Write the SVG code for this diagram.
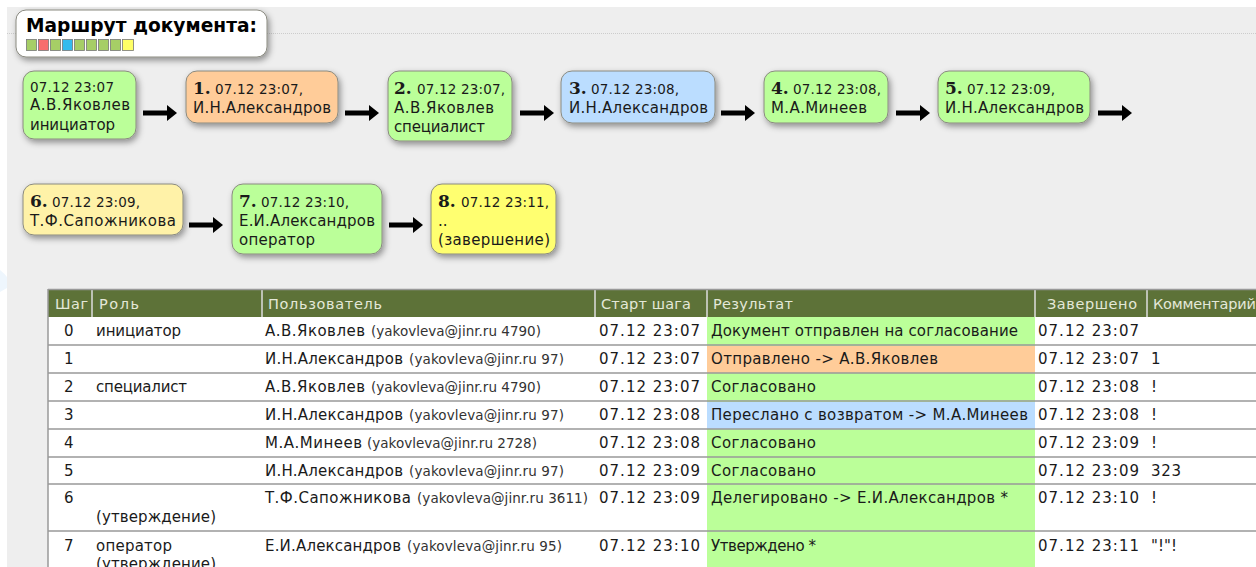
<svg xmlns="http://www.w3.org/2000/svg" width="1256" height="567" viewBox="0 0 1256 567">
<style>
text{font-family:"DejaVu Sans",Verdana,sans-serif;font-size:15px;fill:#1a1a1a}
.b{font-family:"DejaVu Serif","Liberation Serif",serif;font-weight:bold;font-size:17px}
.d{font-size:13.500px}
.h{fill:#e4e8d8;font-size:14.500px}
.m{font-size:13.500px;fill:#333}
.n{stroke:#8a8a80;stroke-width:1;filter:url(#s)}
.g{fill:#bbff99}.o{fill:#ffcc99}.u{fill:#bbddff}.p{fill:#fff2a8}.y{fill:#ffff70}
.r{stroke:#999;stroke-width:1.500}
.v{stroke:#ddd;stroke-width:1.500}
.a{stroke:#000;stroke-width:5;fill:none;marker-end:url(#m)}
</style>
<defs>
<filter id="s" x="-15%" y="-15%" width="135%" height="140%"><feDropShadow dx="2" dy="3" stdDeviation="3" flood-color="#000" flood-opacity=".4"/></filter>
<marker id="m" markerUnits="userSpaceOnUse" markerWidth="11" markerHeight="16" refX="1" refY="8" orient="auto"><path d="M0 0L10 8L0 16Z" fill="#000"/></marker>
</defs>
<rect width="1256" height="567" fill="#fff"/>
<rect x="7" y="7" width="1249" height="560" fill="#eee"/>
<path d="M0 270Q5 274 7 277V288L0 292Z" fill="#eef6fd"/>
<line x1="7" y1="33.500" x2="1256" y2="33.500" stroke="#ccc" stroke-dasharray="1 1"/>
<g id="title"><rect class="n" x="16" y="10" width="251" height="47" rx="10" fill="#fff"/>
<text x="26" y="32" style="font-size:19px;font-weight:bold;fill:#000" textLength="231" lengthAdjust="spacingAndGlyphs">Маршрут документа:</text>
<g stroke="#777" stroke-width=".8">
<rect x="26.500" y="39.500" width="10" height="11" fill="#a6ce66"/><rect x="38.500" y="39.500" width="10" height="11" fill="#f76d6d"/><rect x="50.500" y="39.500" width="10" height="11" fill="#a6ce66"/><rect x="62.500" y="39.500" width="10" height="11" fill="#33bbee"/><rect x="74.500" y="39.500" width="10" height="11" fill="#a6ce66"/><rect x="86.500" y="39.500" width="10" height="11" fill="#a6ce66"/><rect x="98.500" y="39.500" width="10" height="11" fill="#a6ce66"/><rect x="110.500" y="39.500" width="10" height="11" fill="#a6ce66"/><rect x="122.500" y="39.500" width="11" height="11" fill="#ffff66"/></g></g>
<g id="connectors">
<path class="a" d="M143 113H168"/><path class="a" d="M345 113H370"/><path class="a" d="M520 113H545"/><path class="a" d="M721 113H746"/><path class="a" d="M896 113H921"/><path class="a" d="M1098 113H1123"/><path class="a" d="M189 225H214"/><path class="a" d="M389 225H414"/>
</g>
<g id="node0"><rect class="n g" x="23" y="71" width="113" height="68" rx="11"/><text class="d" x="30" y="92" textLength="84">07.12 23:07</text><text x="30" y="110" textLength="100">А.В.Яковлев</text><text x="30" y="130" textLength="85">инициатор</text></g>
<g id="node1"><rect class="n o" x="186" y="71" width="152" height="52" rx="11"/><text class="b" x="193" y="94">1.</text><text class="d" x="215" y="94" textLength="88">07.12 23:07,</text><text x="193" y="113" textLength="138">И.Н.Александров</text></g>
<g id="node2"><rect class="n g" x="388" y="71" width="124" height="70" rx="11"/><text class="b" x="394" y="94">2.</text><text class="d" x="417" y="94" textLength="88">07.12 23:07,</text><text x="394" y="113" textLength="100">А.В.Яковлев</text><text x="394" y="132" textLength="91">специалист</text></g>
<g id="node3"><rect class="n u" x="561" y="71" width="154" height="52" rx="11"/><text class="b" x="569" y="94">3.</text><text class="d" x="591" y="94" textLength="88">07.12 23:08,</text><text x="569" y="113" textLength="139">И.Н.Александров</text></g>
<g id="node4"><rect class="n g" x="764" y="71" width="124" height="52" rx="11"/><text class="b" x="771" y="94">4.</text><text class="d" x="793" y="94" textLength="88">07.12 23:08,</text><text x="771" y="113" textLength="96">М.А.Минеев</text></g>
<g id="node5"><rect class="n g" x="938" y="71" width="152" height="52" rx="11"/><text class="b" x="945" y="94">5.</text><text class="d" x="967" y="94" textLength="88">07.12 23:09,</text><text x="945" y="113" textLength="139">И.Н.Александров</text></g>
<g id="node6"><rect class="n p" x="23" y="184" width="160" height="51" rx="11"/><text class="b" x="30" y="207">6.</text><text class="d" x="52" y="207" textLength="88">07.12 23:09,</text><text x="30" y="226" textLength="146">Т.Ф.Сапожникова</text></g>
<g id="node7"><rect class="n g" x="232" y="184" width="150" height="70" rx="11"/><text class="b" x="239" y="207">7.</text><text class="d" x="261" y="207" textLength="88">07.12 23:10,</text><text x="239" y="226" textLength="136">Е.И.Александров</text><text x="239" y="245" textLength="76">оператор</text></g>
<g id="node8"><rect class="n y" x="431" y="184" width="125" height="70" rx="11"/><text class="b" x="438" y="207">8.</text><text class="d" x="461" y="207" textLength="88">07.12 23:11,</text><text x="438" y="226">..</text><text x="438" y="245" textLength="112">(завершение)</text></g>
<g id="table">
<rect x="48" y="317" width="1208" height="250" fill="#fff"/>
<rect x="48" y="290" width="1208" height="27" fill="#5d7238"/>
<g class="g"><rect x="707" y="317" width="328" height="250"/></g>
<rect x="707" y="346" width="328" height="27" class="o"/>
<rect x="707" y="402" width="328" height="27" class="u"/>
<path class="v" d="M92 290V317M262 290V317M595 290V317M707 290V317M1035 290V317M1147 290V317"/>
<path class="r" d="M48 289.500H1256M48 345H1256M48 373H1256M48 401H1256M48 429H1256M48 457H1256M48 484H1256M48 531H1256M48 289V567" fill="none"/>
<text class="h" x="55" y="309" textLength="33">Шаг</text><text class="h" x="99" y="309" textLength="40">Роль</text><text class="h" x="268" y="309" textLength="114">Пользователь</text><text class="h" x="601" y="309" textLength="90">Старт шага</text><text class="h" x="713" y="309" textLength="80">Результат</text><text class="h" x="1047" y="309" textLength="90">Завершено</text><text class="h" x="1153" y="309" textLength="103">Комментарий</text>
<text x="64" y="336">0</text><text x="96" y="336" textLength="85">инициатор</text><text x="265" y="336" textLength="100">А.В.Яковлев</text><text class="m" x="371" y="336" textLength="170">(yakovleva@jinr.ru 4790)</text><text x="599" y="336" textLength="101">07.12 23:07</text><text x="711" y="336" textLength="307">Документ отправлен на согласование</text><text x="1038" y="336" textLength="101">07.12 23:07</text>
<text x="64" y="364">1</text><text x="265" y="364" textLength="138">И.Н.Александров</text><text class="m" x="409" y="364" textLength="155">(yakovleva@jinr.ru 97)</text><text x="599" y="364" textLength="101">07.12 23:07</text><text x="711" y="364" textLength="227">Отправлено -&gt; А.В.Яковлев</text><text x="1038" y="364" textLength="101">07.12 23:07</text><text x="1151" y="364">1</text>
<text x="64" y="392">2</text><text x="96" y="392" textLength="91">специалист</text><text x="265" y="392" textLength="100">А.В.Яковлев</text><text class="m" x="371" y="392" textLength="170">(yakovleva@jinr.ru 4790)</text><text x="599" y="392" textLength="101">07.12 23:07</text><text x="711" y="392" textLength="105">Согласовано</text><text x="1038" y="392" textLength="101">07.12 23:08</text><text x="1151" y="392">!</text>
<text x="64" y="420">3</text><text x="265" y="420" textLength="138">И.Н.Александров</text><text class="m" x="409" y="420" textLength="155">(yakovleva@jinr.ru 97)</text><text x="599" y="420" textLength="101">07.12 23:08</text><text x="711" y="420" textLength="317">Переслано с возвратом -&gt; М.А.Минеев</text><text x="1038" y="420" textLength="101">07.12 23:08</text><text x="1151" y="420">!</text>
<text x="64" y="448">4</text><text x="265" y="448" textLength="97">М.А.Минеев</text><text class="m" x="367" y="448" textLength="170">(yakovleva@jinr.ru 2728)</text><text x="599" y="448" textLength="101">07.12 23:08</text><text x="711" y="448" textLength="105">Согласовано</text><text x="1038" y="448" textLength="101">07.12 23:09</text><text x="1151" y="448">!</text>
<text x="64" y="476">5</text><text x="265" y="476" textLength="138">И.Н.Александров</text><text class="m" x="409" y="476" textLength="155">(yakovleva@jinr.ru 97)</text><text x="599" y="476" textLength="101">07.12 23:09</text><text x="711" y="476" textLength="105">Согласовано</text><text x="1038" y="476" textLength="101">07.12 23:09</text><text x="1151" y="476" textLength="30">323</text>
<text x="64" y="503">6</text><text x="265" y="503" textLength="146">Т.Ф.Сапожникова</text><text class="m" x="417" y="503" textLength="171">(yakovleva@jinr.ru 3611)</text><text x="599" y="503" textLength="101">07.12 23:09</text><text x="711" y="503" textLength="297">Делегировано -&gt; Е.И.Александров *</text><text x="1038" y="503" textLength="101">07.12 23:10</text><text x="1151" y="503">!</text>
<text x="96" y="522" textLength="120">(утверждение)</text>
<text x="64" y="551">7</text><text x="96" y="551" textLength="76">оператор</text><text x="265" y="551" textLength="136">Е.И.Александров</text><text class="m" x="407" y="551" textLength="155">(yakovleva@jinr.ru 95)</text><text x="599" y="551" textLength="101">07.12 23:10</text><text x="711" y="551" textLength="105">Утверждено *</text><text x="1038" y="551" textLength="101">07.12 23:11</text><text x="1151" y="551" textLength="26">"!"!</text>
<text x="96" y="569" textLength="120">(утверждение)</text>
</g>
</svg>
